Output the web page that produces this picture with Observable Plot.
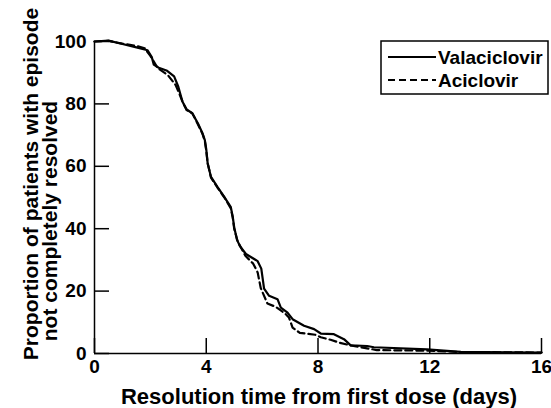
<!DOCTYPE html>
<html>
<head>
<meta charset="utf-8">
<script src="https://cdn.jsdelivr.net/npm/d3@7"></script>
<script src="https://cdn.jsdelivr.net/npm/@observablehq/plot@0.6"></script>
<style>
  html, body { margin: 0; padding: 0; background: #fff; }
  svg { display: block; }
</style>
</head>
<body>
<div id="chart"></div>
<script>
// Data
const seriesNames = ["Valaciclovir", "Aciclovir"];

const valTime = [0, 0.5, 1.0, 1.5, 1.9, 2.05, 2.12, 2.3, 2.6, 2.85, 3.0, 3.15, 3.3, 3.5, 3.7, 3.87, 3.95, 4.0, 4.05, 4.17, 4.4, 4.65, 4.88, 4.95, 5.0, 5.1, 5.2, 5.42, 5.84, 5.97, 6.07, 6.25, 6.55, 6.67, 6.91, 7.09, 7.5, 7.86, 8.1, 8.57, 8.93, 9.17, 9.76, 10.0, 11.9, 13.1, 16];
const valProp = [100, 100.3, 99.2, 98.1, 97.2, 95, 92.6, 91.6, 90.6, 88.8, 85.5, 80.7, 78.2, 77, 73.8, 70.5, 68.4, 65.5, 61, 56.6, 53.4, 50.1, 46.9, 43.7, 40.5, 36.5, 34.5, 31.9, 29.6, 27.2, 20.8, 18.5, 17.4, 14.7, 13.1, 11, 8.9, 7.8, 6.4, 6.2, 4.6, 2.6, 2.4, 2.0, 1.3, 0.5, 0.3];

const aciTime = [0, 0.5, 1.0, 1.5, 1.8, 2.0, 2.26, 2.62, 2.9, 3.04, 3.16, 3.3, 3.5, 3.7, 3.87, 3.95, 4.0, 4.05, 4.17, 4.4, 4.65, 4.88, 4.95, 5.0, 5.12, 5.24, 5.4, 5.68, 5.84, 5.95, 6.19, 6.5, 6.85, 6.96, 7.09, 7.35, 7.9, 8.1, 8.45, 8.75, 9.17, 10.1, 11.9, 13.1, 16];
const aciProp = [100, 100.2, 99.3, 98.6, 97.8, 95.4, 91.5, 89.3, 86.1, 83.2, 80.5, 78, 77, 73.5, 70.3, 68, 65, 61, 56.4, 53.2, 50, 46.5, 43.5, 40, 36, 34, 31.3, 28.8, 26, 21, 16, 14.9, 12.6, 11.5, 8.3, 6.6, 6.0, 5.2, 4.4, 3.5, 2.6, 1.1, 0.9, 0.5, 0.3];

const xTicks = [0, 4, 8, 12, 16];
const yTicks = [0, 20, 40, 60, 80, 100];

const xTitle = "Resolution time from first dose (days)";
const yTitle1 = "Proportion of patients with episode";
const yTitle2 = "not completely resolved";

const val = valTime.map((t, i) => ({t, v: valProp[i]}));
const aci = aciTime.map((t, i) => ({t, v: aciProp[i]}));

const W = 551, H = 408;
const mL = 94, mR = 10, mT = 41, mB = 55;
const frameW = W - mL - mR, frameH = H - mT - mB;
const tickLen = 15;
const font = "'Liberation Sans', Arial, Helvetica, sans-serif";

const svg = Plot.plot({
  width: W,
  height: H,
  marginLeft: mL,
  marginRight: mR,
  marginTop: mT,
  marginBottom: mB,
  x: {domain: [0, 16]},
  y: {domain: [0, 100]},
  style: {fontFamily: font, background: "white", color: "black", overflow: "visible"},
  marks: [
    Plot.axisX(xTicks, {tickSize: 0, tickPadding: 6, fontSize: 19, fontWeight: "bold", label: null}),
    Plot.axisY(yTicks, {tickSize: 0, tickPadding: 8, fontSize: 19, fontWeight: "bold", label: null}),
    Plot.tickX(xTicks, {x: d => d, insetTop: frameH - tickLen, stroke: "black", strokeWidth: 1.5}),
    Plot.tickY(yTicks, {y: d => d, insetRight: frameW - tickLen, stroke: "black", strokeWidth: 1.5}),
    Plot.ruleX([0], {stroke: "black", strokeWidth: 1.5}),
    Plot.ruleY([0], {stroke: "black", strokeWidth: 1.5}),
    Plot.line(val, {x: "t", y: "v", stroke: "black", strokeWidth: 2.2}),
    Plot.line(aci, {x: "t", y: "v", stroke: "black", strokeWidth: 2.2, strokeDasharray: "7,4"})
  ]
});

const s = d3.select(svg);

// Axis titles
s.append("text")
  .attr("x", 319).attr("y", 404)
  .attr("text-anchor", "middle")
  .attr("font-family", font).attr("font-weight", "bold").attr("font-size", 22)
  .attr("fill", "black")
  .text(xTitle);

s.append("text")
  .attr("transform", "translate(38,184) rotate(-90)")
  .attr("text-anchor", "middle")
  .attr("font-family", font).attr("font-weight", "bold").attr("font-size", 21)
  .attr("fill", "black")
  .text(yTitle1);

s.append("text")
  .attr("transform", "translate(57,221) rotate(-90)")
  .attr("text-anchor", "middle")
  .attr("font-family", font).attr("font-weight", "bold").attr("font-size", 21)
  .attr("fill", "black")
  .text(yTitle2);

// Legend
const lg = s.append("g");
lg.append("rect")
  .attr("x", 381).attr("y", 41).attr("width", 167).attr("height", 53)
  .attr("fill", "white").attr("stroke", "black").attr("stroke-width", 1.5);
const dashes = [null, "7,4"];
seriesNames.forEach((name, i) => {
  const yy = 57 + i * 23;
  lg.append("line")
    .attr("x1", 388).attr("x2", 436).attr("y1", yy).attr("y2", yy)
    .attr("stroke", "black").attr("stroke-width", 2)
    .attr("stroke-dasharray", dashes[i]);
  lg.append("text")
    .attr("x", 438).attr("y", yy).attr("dy", "0.35em")
    .attr("text-anchor", "start")
    .attr("font-family", font).attr("font-weight", "bold").attr("font-size", 19)
    .attr("fill", "black")
    .text(name);
});

document.getElementById("chart").appendChild(svg);
</script>
</body>
</html>
